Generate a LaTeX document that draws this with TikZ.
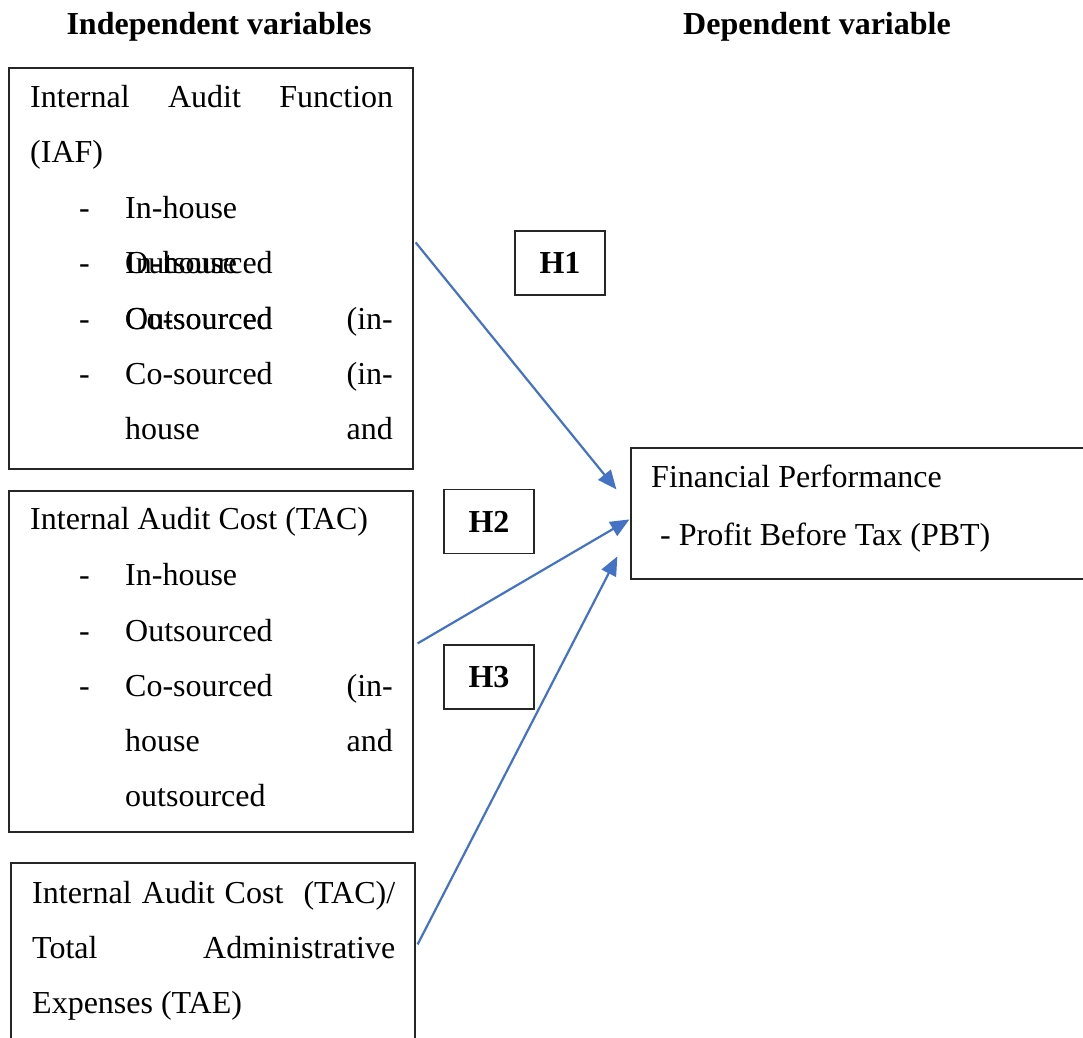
\documentclass[tikz,border=0pt]{standalone}
\usepackage{fontspec}
\setmainfont{Liberation Serif}
\usetikzlibrary{arrows.meta,calc}
\definecolor{arrblue}{RGB}{68,114,196}
\begin{document}
\begin{tikzpicture}[x=1pt,y=-1pt,
  box/.style={draw=black!85, line width=1.2pt, inner sep=0pt},
  hbox/.style={box, minimum width=90pt, minimum height=64pt, font=\fontsize{32}{38}\selectfont\bfseries},
  txt/.style={anchor=base west, inner sep=0pt, font=\fontsize{32}{38}\selectfont},
  txtr/.style={anchor=base east, inner sep=0pt, font=\fontsize{32}{38}\selectfont},
  ttl/.style={anchor=base, inner sep=0pt, font=\fontsize{32}{38}\selectfont\bfseries},
  arr/.style={draw=arrblue, line width=2.2pt, -{Triangle[length=19pt,width=16pt]}}]
\clip (0,0) rectangle (1083,1037);
% titles
\node[ttl] (tind) at (219,34) {Independent variables};
\node[ttl] (tdep) at (817,34) {Dependent variable};
% boxes
\node[box, minimum width=404pt, minimum height=401pt] (iaf) at (211,268.5) {};
\node[box, minimum width=404pt, minimum height=341pt] (tac) at (211,661.5) {};
\node[box, minimum width=404pt, minimum height=187pt] (tae) at (213,956.5) {};
\node[box, minimum width=459pt, minimum height=131pt] (fp) at (860.5,513.5) {};
\node[hbox] (h1) at (560,263) {H1};
\node[hbox] (h2) at (489,521.5) {H2};
\node[hbox] (h3) at (489,677) {H3};
% box 1 text
\node[txt] (b1l1) at (30,107) {\makebox[363pt]{Internal\hfill Audit\hfill Function}};
\node[txt] (b1l2) at (30,162) {(IAF)};
\node[txt] (b1d1) at (79,218) {-};
\node[txt] (b1i1) at (125,218) {In-house};
\node[txt] (b1d2) at (79,273) {-};
\node[txt] (b1i2a) at (125,273) {In-house};
\node[txt] (b1i2b) at (125,273) {Outsourced};
\node[txt] (b1d3) at (79,329) {-};
\node[txt] (b1i3a) at (125,329) {Outsourced};
\node[txt] (b1i3b) at (125,329) {Co-sourced};
\node[txtr] (b1i3c) at (393,329) {(in-};
\node[txt] (b1d4) at (79,384) {-};
\node[txt] (b1i4) at (125,384) {Co-sourced};
\node[txtr] (b1i4c) at (393,384) {(in-};
\node[txt] (b1i5) at (125,439) {house};
\node[txtr] (b1i5c) at (393,439) {and};
% box 2 text
\node[txt] (b2l1) at (30,529) {Internal Audit Cost (TAC)};
\node[txt] (b2d1) at (79,585) {-};
\node[txt] (b2i1) at (125,585) {In-house};
\node[txt] (b2d2) at (79,641) {-};
\node[txt] (b2i2) at (125,641) {Outsourced};
\node[txt] (b2d3) at (79,696) {-};
\node[txt] (b2i3) at (125,696) {Co-sourced};
\node[txtr] (b2i3c) at (393,696) {(in-};
\node[txt] (b2i4) at (125,751) {house};
\node[txtr] (b2i4c) at (393,751) {and};
\node[txt] (b2i5) at (125,806) {outsourced};
% box 3 text
\node[txt] (b3l1) at (32,903) {\makebox[363pt]{Internal\hfill Audit\hfill Cost\hfill\hfill (TAC)/}};
\node[txt] (b3l2) at (32,958) {\makebox[363pt]{Total\hfill Administrative}};
\node[txt] (b3l3) at (32,1013) {Expenses (TAE)};
% fp text
\node[txt] (fp1) at (651,487) {Financial Performance};
\node[txt] (fp2) at (660,545) {- Profit Before Tax (PBT)};
% arrows
\coordinate (a1s) at ($(iaf.north east)+(2,175)$);
\coordinate (a1e) at ($(fp.north west)+(-14,42)$);
\coordinate (a2s) at ($(tac.north east)+(4,153)$);
\coordinate (a2e) at ($(fp.north west)+(-1,72)$);
\coordinate (a3s) at ($(tae.north east)+(2,82)$);
\coordinate (a3e) at ($(fp.north west)+(-13,109)$);
\draw[arr] (a1s) -- (a1e);
\draw[arr] (a2s) -- (a2e);
\draw[arr] (a3s) -- (a3e);
\end{tikzpicture}
\end{document}
